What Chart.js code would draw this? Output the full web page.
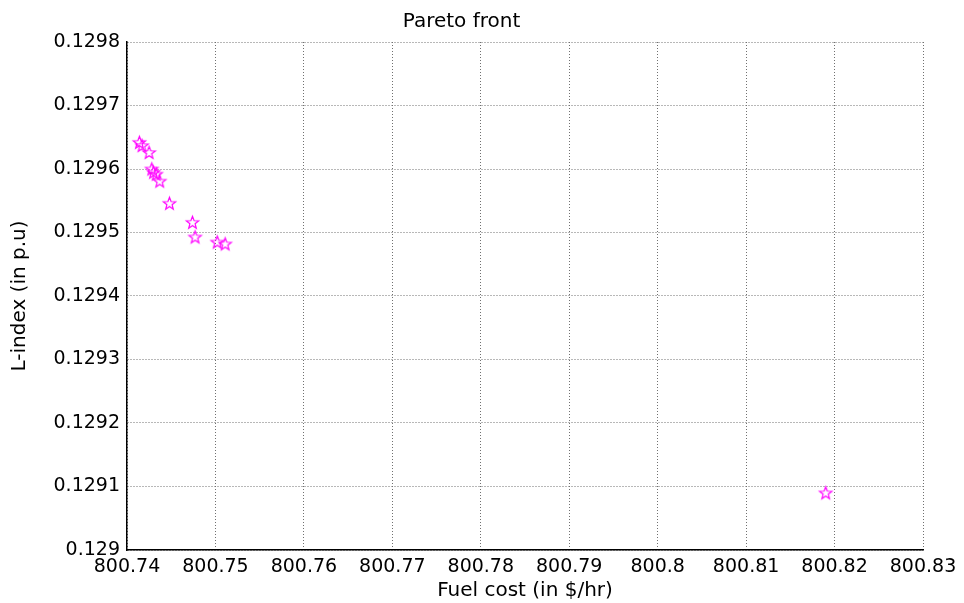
<!DOCTYPE html>
<html>
<head>
<meta charset="utf-8">
<script src="https://cdn.jsdelivr.net/npm/chart.js@4/dist/chart.umd.min.js"></script>
<style>
  html, body { margin: 0; padding: 0; background: #fff; }
  canvas { display: block; }
</style>
</head>
<body>
<canvas id="myChart" width="964" height="603"></canvas>
<script>
// Pareto front points
const fuelCost = [800.7414, 800.7417, 800.7425, 800.7428, 800.7430, 800.7433, 800.7437,
                  800.7448, 800.7474, 800.7477, 800.7502, 800.7511, 800.8190];
const lIndex = [0.129642, 0.129637, 0.129626, 0.129600, 0.129595, 0.129592, 0.129581,
                0.129546, 0.129516, 0.129493, 0.129485, 0.129482, 0.129090];

const xMin = 800.74, xMax = 800.83, xStep = 0.01;
const yMin = 0.1290, yMax = 0.1298, yStep = 0.0001;

// five pointed outline star like matlab's 'p' marker
function makeStar(radius, color) {
    const size = radius * 2 + 4;
    const c = document.createElement('canvas');
    c.width = size;
    c.height = size;
    const g = c.getContext('2d');
    const cx = size / 2, cy = size / 2 + 0.5;
    const inner = radius * 0.42;
    g.beginPath();
    for (let i = 0; i < 10; i++) {
        const r = i % 2 === 0 ? radius : inner;
        const a = -Math.PI / 2 + i * Math.PI / 5;
        const px = cx + r * Math.cos(a);
        const py = cy + r * Math.sin(a);
        if (i === 0) g.moveTo(px, py); else g.lineTo(px, py);
    }
    g.closePath();
    g.strokeStyle = color;
    g.lineWidth = 1.2;
    g.stroke();
    return c;
}

const starMarker = makeStar(6.5, '#ff00ff');

function axisBorder() {
    // in v4 border.dash is used for the grid lines
    return { display: true, color: '#000', width: 1.5, dash: [1, 2] };
}

document.addEventListener('DOMContentLoaded', function () {
    const ctx = document.getElementById('myChart').getContext('2d');
    new Chart(ctx, {
        type: 'scatter',
        data: {
            datasets: [{
                label: 'Pareto front',
                data: fuelCost.map((x, i) => ({ x: x, y: lIndex[i] })),
                pointStyle: starMarker,
                pointRadius: 7,
                showLine: false
            }]
        },
        options: {
            responsive: false,
            animation: false,
            layout: { padding: { left: 0, right: 41, top: 0, bottom: 0 } },
            plugins: {
                legend: { display: false },
                tooltip: { enabled: false },
                title: {
                    display: true,
                    text: 'Pareto front',
                    color: '#000',
                    font: { family: 'DejaVu Sans', size: 20, weight: 'normal' },
                    padding: { top: 10, bottom: 8 }
                }
            },
            scales: {
                x: {
                    type: 'linear',
                    min: xMin,
                    max: xMax,
                    afterFit: function (scale) { scale.height = 53; },
                    border: axisBorder(),
                    grid: { color: '#707070', lineWidth: 1, drawTicks: false },
                    ticks: {
                        stepSize: xStep,
                        color: '#000',
                        padding: 6,
                        maxRotation: 0,
                        font: { family: 'DejaVu Sans', size: 19 },
                        callback: v => Number(v.toFixed(2)).toString()
                    },
                    title: {
                        display: true,
                        text: 'Fuel cost (in $/hr)',
                        color: '#000',
                        font: { family: 'DejaVu Sans', size: 20 },
                        padding: { top: 0, bottom: 0 }
                    }
                },
                y: {
                    type: 'linear',
                    min: yMin,
                    max: yMax,
                    afterFit: function (scale) { scale.width = 127; },
                    border: axisBorder(),
                    grid: { color: '#707070', lineWidth: 1, drawTicks: false },
                    ticks: {
                        stepSize: yStep,
                        color: '#000',
                        padding: 7,
                        font: { family: 'DejaVu Sans', size: 19 },
                        callback: v => Number(v.toFixed(4)).toString()
                    },
                    title: {
                        display: true,
                        text: 'L-index (in p.u)',
                        color: '#000',
                        font: { family: 'DejaVu Sans', size: 20 },
                        padding: { top: 8, bottom: 0 }
                    }
                }
            }
        }
    });
});
</script>
</body>
</html>
